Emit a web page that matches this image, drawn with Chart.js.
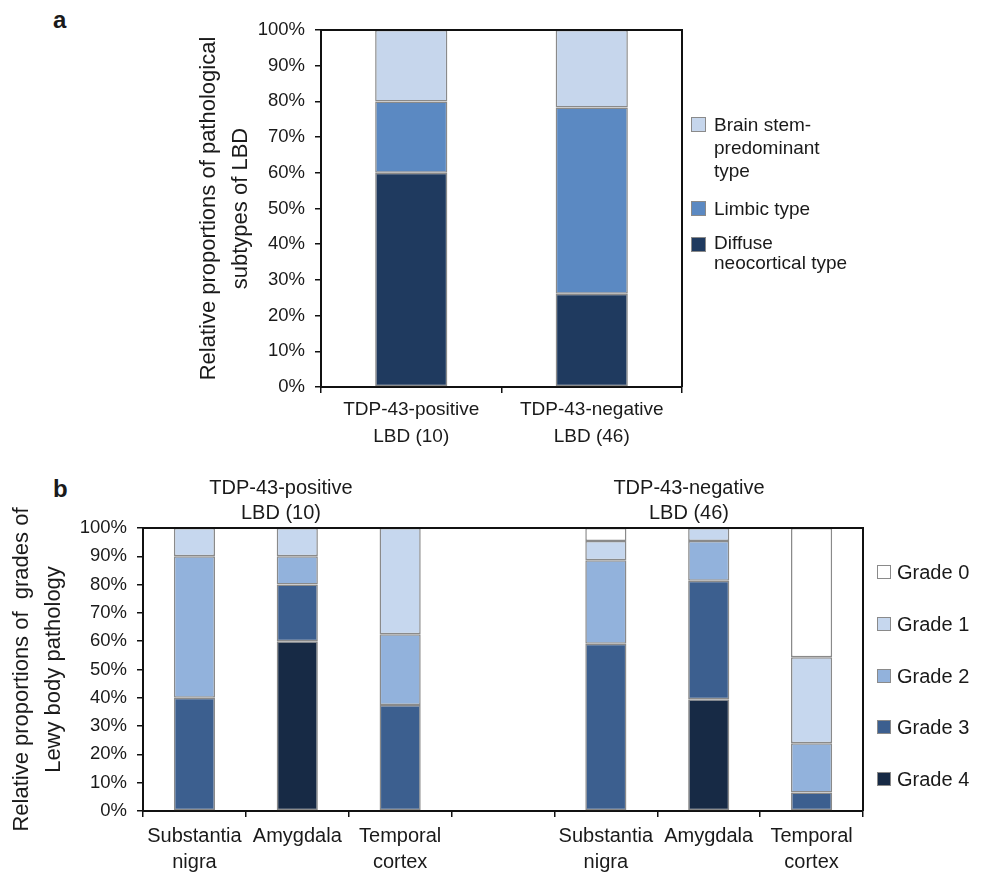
<!DOCTYPE html>
<html>
<head>
<meta charset="utf-8">
<script src="https://cdn.jsdelivr.net/npm/chart.js@4.4.1/dist/chart.umd.min.js"></script>
<style>
  body { margin: 0; background: #fff; font-family: "Liberation Sans", Arial, sans-serif; color: #1a1a1a; }
  #page { position: relative; width: 982px; height: 874px; overflow: hidden; }
  canvas { position: absolute; }
  .panel { position: absolute; font-weight: bold; font-size: 24px; line-height: 28px; }
  .grp { position: absolute; font-size: 20px; line-height: 25px; text-align: center; width: 220px; }
  .leg { position: absolute; }
  .leg .sq { position: absolute; border: 1.5px solid #8a8a8a; box-sizing: border-box; }
  .leg .tx { position: absolute; white-space: nowrap; }
</style>
</head>
<body>
<div id="page">
  <div class="panel" style="left:53px; top:6px;">a</div>
  <div class="panel" style="left:53px; top:475px;">b</div>
  <canvas id="chartA" style="left:180px; top:0px;" width="802" height="460"></canvas>
  <canvas id="chartB" style="left:0px; top:440px;" width="982" height="434"></canvas>
  <div class="grp" style="left:171px; top:475px;">TDP-43-positive<br>LBD (10)</div>
  <div class="grp" style="left:579px; top:475px;">TDP-43-negative<br>LBD (46)</div>
  <div id="legendA" class="leg"></div>
  <div id="legendB" class="leg"></div>
</div>
<script>
// Panel a: subtypes of LBD
const groupsA = [['TDP-43-positive', 'LBD (10)'], ['TDP-43-negative', 'LBD (46)']];
const diffuseNeo = [60, 26.1];
const limbicType = [20, 52.2];
const brainStem = [20, 21.7];

// Panel b: grades of Lewy body pathology (4th slot is the gap between groups)
const regions = [['Substantia', 'nigra'], 'Amygdala', ['Temporal', 'cortex'], '',
                 ['Substantia', 'nigra'], 'Amygdala', ['Temporal', 'cortex']];
const grade4 = [0, 60, 0, null, 0, 39.5, 0];
const grade3 = [40, 20, 37.5, null, 59.1, 41.9, 6.5];
const grade2 = [50, 10, 25, null, 29.5, 14.0, 17.4];
const grade1 = [10, 10, 37.5, null, 6.8, 4.6, 30.4];
const grade0 = [0, 0, 0, null, 4.6, 0, 45.7];

const yTicks = [0, 10, 20, 30, 40, 50, 60, 70, 80, 90, 100];

Chart.defaults.font.family = '"Liberation Sans", Arial, sans-serif';
Chart.defaults.color = '#1a1a1a';
Chart.defaults.animation = false;

const edge = '#8a8a8a';

// draws the top and right sides of the plot box
const framePlugin = {
  id: 'frame',
  afterDraw(chart) {
    const {ctx, chartArea: a} = chart;
    ctx.save();
    ctx.strokeStyle = '#111';
    ctx.lineWidth = 2;
    ctx.beginPath();
    ctx.moveTo(a.left, a.top);
    ctx.lineTo(a.right, a.top);
    ctx.lineTo(a.right, a.bottom);
    ctx.stroke();
    ctx.restore();
  }
};

function barSet(label, data, color) {
  return {
    label: label,
    data: data,
    backgroundColor: color,
    borderColor: edge,
    borderWidth: 1.5,
    borderSkipped: false,
    barPercentage: 0.4,
    categoryPercentage: 1.0
  };
}

function yScale(width, titleLines, titlePad, tickSize) {
  return {
    stacked: true,
    min: 0,
    max: 100,
    afterBuildTicks: s => { s.ticks = yTicks.map(v => ({value: v})); },
    ticks: { callback: v => v + '%', font: {size: tickSize}, padding: 10, color: '#1a1a1a' },
    grid: { drawOnChartArea: false, drawTicks: true, tickLength: 6, color: '#111', lineWidth: 1.5 },
    border: { color: '#111', width: 2 },
    title: { display: true, text: titleLines, font: {size: 22, lineHeight: 1.45}, padding: {top: titlePad, bottom: 0}, color: '#1a1a1a' },
    afterFit: s => { s.width = width; }
  };
}

function xScale(height, fontSize, lineH, pad) {
  return {
    stacked: true,
    ticks: { font: {size: fontSize, lineHeight: lineH}, padding: pad, maxRotation: 0, autoSkip: false, color: '#1a1a1a' },
    grid: { offset: true, drawOnChartArea: false, drawTicks: true, tickLength: 6, color: '#111', lineWidth: 1.5 },
    border: { color: '#111', width: 2 },
    afterFit: s => { s.height = height; }
  };
}

const chartA = new Chart(document.getElementById('chartA'), {
  type: 'bar',
  data: {
    labels: groupsA,
    datasets: [
      barSet('Diffuse neocortical type', diffuseNeo, '#1f3a5f'),
      barSet('Limbic type', limbicType, '#5b89c2'),
      barSet('Brain stem-predominant type', brainStem, '#c6d6ec')
    ]
  },
  options: {
    responsive: false,
    layout: { padding: {left: 0, top: 30, right: 300, bottom: 0} },
    plugins: { legend: {display: false}, tooltip: {enabled: false} },
    scales: {
      x: xScale(73, 19, 1.42, 3),
      y: yScale(141, ['Relative proportions of pathological', 'subtypes of LBD'], 13, 18.5)
    }
  },
  plugins: [framePlugin]
});

const chartB = new Chart(document.getElementById('chartB'), {
  type: 'bar',
  data: {
    labels: regions,
    datasets: [
      barSet('Grade 4', grade4, '#172a45'),
      barSet('Grade 3', grade3, '#3c5f8f'),
      barSet('Grade 2', grade2, '#92b2dc'),
      barSet('Grade 1', grade1, '#c6d7ee'),
      barSet('Grade 0', grade0, '#ffffff')
    ]
  },
  options: {
    responsive: false,
    layout: { padding: {left: 0, top: 88, right: 119, bottom: 0} },
    plugins: { legend: {display: false}, tooltip: {enabled: false} },
    scales: {
      x: xScale(63, 20, 1.3, 6),
      y: yScale(143, ['Relative proportions of  grades of', 'Lewy body pathology'], 6, 18.5)
    }
  },
  plugins: [framePlugin]
});

// HTML legends built from the chart datasets
function buildLegend(el, chart, items) {
  items.forEach(it => {
    const ds = chart.data.datasets[it.index];
    const sq = document.createElement('div');
    sq.className = 'sq';
    sq.style.left = it.sx + 'px';
    sq.style.top = it.sy + 'px';
    sq.style.width = it.size + 'px';
    sq.style.height = it.size + 'px';
    sq.style.background = ds.backgroundColor;
    el.appendChild(sq);
    const tx = document.createElement('div');
    tx.className = 'tx';
    tx.style.left = it.tx + 'px';
    tx.style.top = it.ty + 'px';
    tx.style.fontSize = it.font + 'px';
    tx.style.lineHeight = it.lh + 'px';
    tx.innerHTML = it.lines.join('<br>');
    el.appendChild(tx);
  });
}

buildLegend(document.getElementById('legendA'), chartA, [
  {index: 2, sx: 691, sy: 117, size: 15, tx: 714, ty: 113, font: 19, lh: 23, lines: ['Brain stem-', 'predominant', 'type']},
  {index: 1, sx: 691, sy: 201, size: 15, tx: 714, ty: 197, font: 19, lh: 23, lines: ['Limbic type']},
  {index: 0, sx: 691, sy: 237, size: 15, tx: 714, ty: 233, font: 19, lh: 20, lines: ['Diffuse', 'neocortical type']}
]);

const gradeOrder = [4, 3, 2, 1, 0];
buildLegend(document.getElementById('legendB'), chartB, gradeOrder.map((di, k) => ({
  index: di, sx: 877, sy: 565 + k * 51.75, size: 14, tx: 897, ty: 560 + k * 51.75, font: 20, lh: 24,
  lines: [chartB.data.datasets[di].label]
})));
</script>
</body>
</html>
